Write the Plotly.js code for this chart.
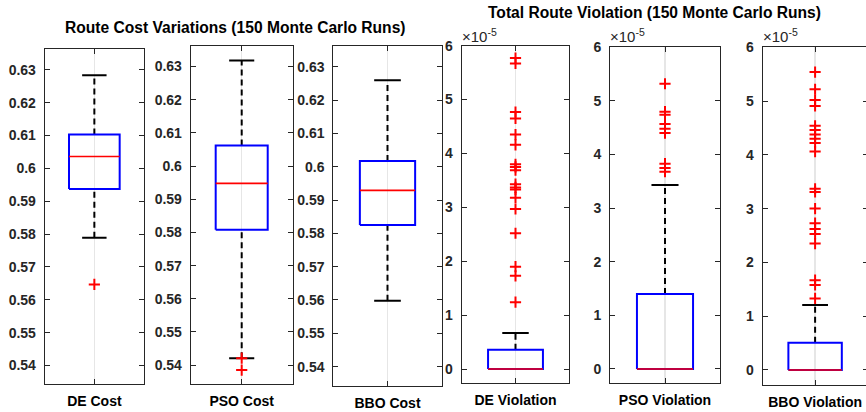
<!DOCTYPE html>
<html>
<head>
<meta charset="utf-8">
<script src="https://cdn.plot.ly/plotly-3.0.1.min.js"></script>
<style>
  html, body { margin: 0; padding: 0; background: #ffffff; overflow: hidden; }
  #chart { width: 870px; height: 412px; }
</style>
</head>
<body>
<div id="chart"></div>
<script>
// ---------------- DATA ----------------
const categories = ['DE Cost', 'PSO Cost', 'BBO Cost', 'DE Violation', 'PSO Violation', 'BBO Violation'];
const q1Values     = [0.5937, 0.5808, 0.5825, 0, 0, 0];
const medianValues = [0.6036, 0.5948, 0.5929, 0, 0, 0];
const q3Values     = [0.6103, 0.6062, 0.6017, 0.358e-5, 1.40e-5, 0.507e-5];
const lowerWhisker = [0.5789, 0.5421, 0.5598, 0, 0, 0];
const upperWhisker = [0.6283, 0.6318, 0.6259, 0.668e-5, 3.43e-5, 1.21e-5];

const deCostOutliers  = [0.5647];
const psoCostOutliers = [0.5421, 0.5385];
const bboCostOutliers = [];
const deViolationOutliers  = [5.77e-5, 5.67e-5, 4.77e-5, 4.65e-5, 4.35e-5, 4.16e-5, 3.80e-5, 3.75e-5, 3.69e-5,
                              3.43e-5, 3.37e-5, 3.33e-5, 3.18e-5, 2.97e-5, 2.52e-5, 1.90e-5, 1.73e-5, 1.24e-5];
const psoViolationOutliers = [5.32e-5, 4.80e-5, 4.74e-5, 4.57e-5, 4.48e-5, 4.40e-5, 3.83e-5, 3.75e-5, 3.68e-5];
const bboViolationOutliers = [5.54e-5, 5.22e-5, 5.02e-5, 4.91e-5, 4.54e-5, 4.46e-5, 4.38e-5, 4.30e-5, 4.22e-5,
                              4.06e-5, 3.37e-5, 3.31e-5, 3.00e-5, 2.73e-5, 2.62e-5, 2.53e-5, 2.35e-5,
                              1.67e-5, 1.58e-5, 1.33e-5];
const outliers = [deCostOutliers, psoCostOutliers, bboCostOutliers,
                  deViolationOutliers, psoViolationOutliers, bboViolationOutliers];

const costTicks = [0.54, 0.55, 0.56, 0.57, 0.58, 0.59, 0.6, 0.61, 0.62, 0.63];
const costTickText = ['0.54', '0.55', '0.56', '0.57', '0.58', '0.59', '0.6', '0.61', '0.62', '0.63'];
const violationTicks = [0, 1e-5, 2e-5, 3e-5, 4e-5, 5e-5, 6e-5];
const violationTickText = ['0', '1', '2', '3', '4', '5', '6'];

const titleCost = 'Route Cost Variations (150 Monte Carlo Runs)';
const titleViolation = 'Total Route Violation (150 Monte Carlo Runs)';

// ---------------- LAYOUT GEOMETRY (pixels) ----------------
const W = 870, H = 412;
const panels = [
  {l: 44.7,  r: 144.0, t: 48.7, b: 384.0, yr: [0.5344, 0.6364]},
  {l: 190.7, r: 292.7, t: 45.7, b: 384.0, yr: [0.5343, 0.6363]},
  {l: 333.3, r: 441.7, t: 45.7, b: 386.3, yr: [0.5341, 0.6363]},
  {l: 461.7, r: 569.3, t: 45.7, b: 383.3, yr: [-0.265e-5, 6e-5]},
  {l: 610.0, r: 720.0, t: 47.3, b: 383.3, yr: [-0.267e-5, 6e-5]},
  {l: 762.7, r: 867.5, t: 47.3, b: 385.0, yr: [-0.28e-5, 6e-5]}
];

const FONT = 'Liberation Sans, Arial, Helvetica, sans-serif';
const AXCOL = '#262626';
const BOXHW = 0.255, CAPHW = 0.123;

const traces = [];
const layout = {
  width: W, height: H,
  margin: {l: 0, r: 0, t: 0, b: 0, pad: 0},
  paper_bgcolor: '#ffffff', plot_bgcolor: '#ffffff',
  showlegend: false,
  font: {family: FONT, size: 14, color: AXCOL},
  annotations: []
};

panels.forEach((p, i) => {
  const sfx = i === 0 ? '' : String(i + 1);
  const xa = 'x' + sfx, ya = 'y' + sfx;
  const c = 1;
  // caps
  traces.push({x: [c - CAPHW, c + CAPHW], y: [upperWhisker[i], upperWhisker[i]], xaxis: xa, yaxis: ya,
    type: 'scatter', mode: 'lines', line: {color: '#000000', width: 2}, hoverinfo: 'skip'});
  traces.push({x: [c - CAPHW, c + CAPHW], y: [lowerWhisker[i], lowerWhisker[i]], xaxis: xa, yaxis: ya,
    type: 'scatter', mode: 'lines', line: {color: '#000000', width: 2}, hoverinfo: 'skip'});
  // whiskers
  traces.push({x: [c, c], y: [q3Values[i], upperWhisker[i]], xaxis: xa, yaxis: ya,
    type: 'scatter', mode: 'lines', line: {color: '#000000', width: 2, dash: '6px,4px'}, hoverinfo: 'skip'});
  traces.push({x: [c, c], y: [lowerWhisker[i], q1Values[i]], xaxis: xa, yaxis: ya,
    type: 'scatter', mode: 'lines', line: {color: '#000000', width: 2, dash: '6px,4px'}, hoverinfo: 'skip'});
  // box
  traces.push({x: [c - BOXHW, c + BOXHW, c + BOXHW, c - BOXHW, c - BOXHW],
    y: [q1Values[i], q1Values[i], q3Values[i], q3Values[i], q1Values[i]], xaxis: xa, yaxis: ya,
    type: 'scatter', mode: 'lines', line: {color: '#0000ff', width: 2}, hoverinfo: 'skip'});
  // median
  traces.push({x: [c - BOXHW, c + BOXHW], y: [medianValues[i], medianValues[i]], xaxis: xa, yaxis: ya,
    type: 'scatter', mode: 'lines', line: {color: '#ff0000', width: 1.6}, hoverinfo: 'skip'});
  // outliers
  if (outliers[i].length) {
    traces.push({x: outliers[i].map(() => c), y: outliers[i], xaxis: xa, yaxis: ya,
      type: 'scatter', mode: 'markers',
      marker: {symbol: 'cross-thin', size: 8, color: '#ff0000', line: {color: '#ff0000', width: 2}},
      hoverinfo: 'skip'});
  }

  const isCost = i < 3;
  layout['xaxis' + sfx] = {
    domain: [p.l / W, p.r / W], anchor: ya,
    range: [0.5, 1.5], tickvals: [1], ticktext: [categories[i]],
    tickfont: {family: FONT, size: 14, color: '#000000', weight: 'bold'},
    ticks: 'inside', ticklen: 5, tickcolor: AXCOL, tickwidth: 1,
    showline: true, linecolor: AXCOL, linewidth: 1, mirror: 'ticks',
    showgrid: true, gridcolor: '#e6e6e6', gridwidth: 1.5, zeroline: false,
    ticklabelstandoff: 4, fixedrange: true
  };
  layout['yaxis' + sfx] = {
    domain: [1 - p.b / H, 1 - p.t / H], anchor: xa,
    range: p.yr,
    tickvals: isCost ? costTicks : violationTicks,
    ticktext: isCost ? costTickText : violationTickText,
    tickfont: {family: FONT, size: 14, color: AXCOL, weight: 'bold'},
    ticks: 'inside', ticklen: 5, tickcolor: AXCOL, tickwidth: 1,
    showline: true, linecolor: AXCOL, linewidth: 1, mirror: 'ticks',
    showgrid: false, zeroline: false, ticklabelstandoff: 5, fixedrange: true
  };
  if (!isCost) {
    layout.annotations.push({
      xref: 'paper', yref: 'paper', x: (p.l - 2) / W, y: 1 - 36 / H,
      xanchor: 'left', yanchor: 'middle', showarrow: false,
      text: '×10<sup>-5</sup>', font: {family: FONT, size: 15, color: AXCOL}
    });
  }
});

layout.annotations.push({
  xref: 'paper', yref: 'paper', x: 235.5 / W, y: 1 - 28 / H, xanchor: 'center', yanchor: 'middle',
  showarrow: false, text: '<b>' + titleCost + '</b>', font: {family: FONT, size: 15.6, color: '#000000'}
});
layout.annotations.push({
  xref: 'paper', yref: 'paper', x: 654.5 / W, y: 1 - 12.5 / H, xanchor: 'center', yanchor: 'middle',
  showarrow: false, text: '<b>' + titleViolation + '</b>', font: {family: FONT, size: 15.6, color: '#000000'}
});

Plotly.newPlot('chart', traces, layout, {staticPlot: true, displayModeBar: false});
</script>
</body>
</html>
